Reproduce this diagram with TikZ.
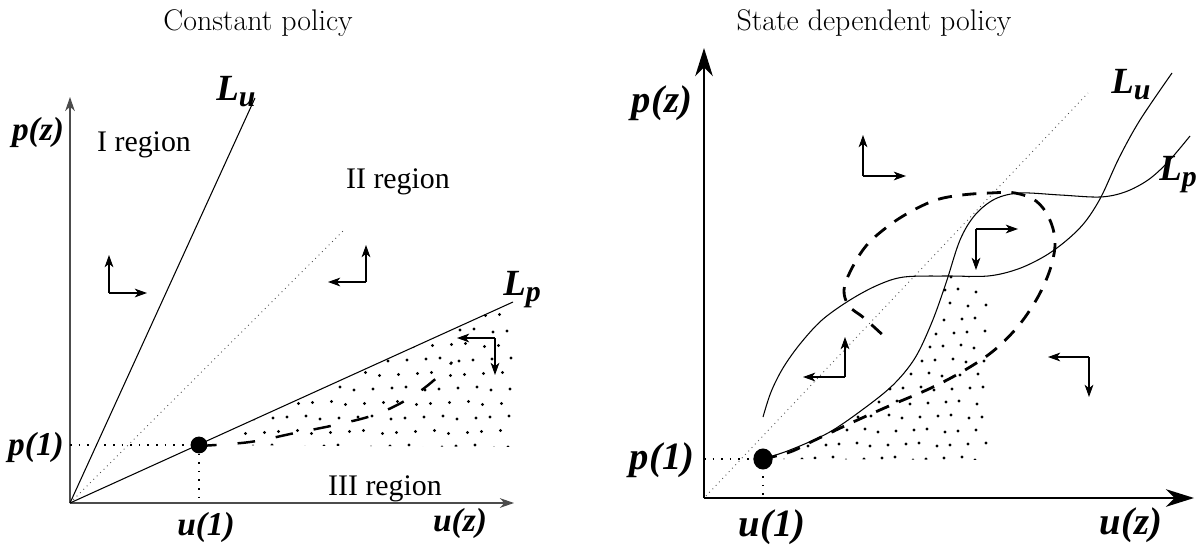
\documentclass[tikz,border=0pt]{standalone}
\usepackage{fontspec}
\newfontfamily\tms{Liberation Serif}
\usetikzlibrary{arrows.meta}
\newcommand{\Lsub}[1]{{\fontsize{21}{21}\selectfont L}\raisebox{-0.4ex}{\fontsize{17}{17}\selectfont #1}}
\begin{document}
\begin{tikzpicture}[x=0.02cm,y=-0.02cm,
  axisL/.style={draw=black!70, line width=0.8pt, -{Stealth[length=8pt,width=5.5pt,inset=2.5pt]}},
  axisR/.style={draw=black, line width=1.2pt, -{Stealth[length=16pt,width=10pt,inset=5pt]}},
  curve/.style={line width=0.6pt},
  diag/.style={line width=0.5pt, black!70, dash pattern=on 0.5pt off 2.2pt},
  guide/.style={line width=0.9pt, dash pattern=on 0.9pt off 4pt},
  sarrow/.style={line width=0.6pt, -{Stealth[length=7pt,width=5pt,inset=2pt]}},
  dashL/.style={line width=1.4pt, dash pattern=on 10pt off 12pt},
  dashR/.style={line width=1.6pt, dash pattern=on 8pt off 6pt},
  lab/.style={font=\tms\bfseries\itshape\fontsize{19}{19}\selectfont, inner sep=0pt},
  labR/.style={font=\tms\bfseries\itshape\fontsize{22}{22}\selectfont, inner sep=0pt},
  reg/.style={font=\tms\fontsize{17}{17}\selectfont, inner sep=0pt},
  ttl/.style={font=\fontsize{17}{17}\selectfont, inner sep=0pt, anchor=base},
]
\useasboundingbox (0,0) rectangle (1196,544);

% ---------- titles
\node[ttl] (t1) at (258,31) {Constant policy};
\node[ttl] (t2) at (874,31) {State dependent policy};

% ================= LEFT PANEL
\coordinate (O1) at (70,503);
\coordinate (Y1) at (70,97);
\coordinate (X1) at (514,503);
\coordinate (Lu1) at (255,98);
\coordinate (Dg1) at (345,229);
\coordinate (Lp1) at (513,302);
\coordinate (P1) at (199,445);
\coordinate (PY1) at (70,445);
\coordinate (UX1) at (199,503);
\coordinate (R1) at (513,447);

% dotted region
\begin{scope}
\clip (P1) -- (Lp1) -- (R1) -- cycle;
\foreach \j in {0,...,10} {
  \foreach \i in {0,...,19} {
    \fill ({203+\i*17+mod(\j,2)*8.5+mod(\i*7+\j*3,5)-2}, {447-\j*14.5+mod(\i*3+\j,4)-2}) circle[radius=0.95pt];
  }
}
\end{scope}

\draw[axisL] (O1) -- (Y1);
\draw[axisL] (O1) -- (X1);
\draw[curve] (O1) -- (Lu1);
\draw[diag] (O1) -- (Dg1);
\draw[curve] (O1) -- (Lp1);
\draw[guide] (PY1) -- (P1);
\draw[guide] (P1) -- (UX1);
\draw[dashL] plot[smooth, tension=0.6] coordinates {(199,446) (250,442) (295,433) (335,425) (377,414) (413,396) (440,375) (452,362)};
\fill (P1) circle[radius=4.8pt];

% arrow groups
\coordinate (a1) at (109,293); \coordinate (a1u) at (109,255); \coordinate (a1r) at (147,293);
\draw[sarrow] (a1) -- (a1u); \draw[sarrow] (a1) -- (a1r);
\coordinate (a2) at (366,282); \coordinate (a2u) at (366,245); \coordinate (a2l) at (328,282);
\draw[sarrow] (a2) -- (a2u); \draw[sarrow] (a2) -- (a2l);
\coordinate (a3) at (495,338); \coordinate (a3l) at (457,338); \coordinate (a3d) at (495,375);
\draw[sarrow] (a3) -- (a3l); \draw[sarrow] (a3) -- (a3d);

% labels
\node[lab] (pz1) at (38,132) {p(z)};
\node[lab] (p11) at (36,447) {p(1)};
\node[lab] (u11) at (206,527) {u(1)};
\node[lab] (uz1) at (460,523) {u(z)};
\node[lab] (lu1) at (236,92) {\Lsub{u}};
\node[lab] (lp1) at (522,290) {\Lsub{p}};
\node[reg] (r1) at (144,145) {I region};
\node[reg] (r2) at (398,182) {II region};
\node[reg] (r3) at (385,489) {III region};

% ================= RIGHT PANEL
\coordinate (O2) at (704,498);
\coordinate (Y2) at (704,48);
\coordinate (X2) at (1194,498);
\coordinate (P2) at (763,459);
\coordinate (PY2) at (704,459);
\coordinate (UX2) at (763,498);
\coordinate (Dg2a) at (706,496);
\coordinate (Dg2b) at (1088,93);

% dotted region
\begin{scope}
\clip (763,459) -- (790,450) -- (828,433) -- (862,410) -- (893,385) -- (915,358) -- (932,322) -- (946,283) -- (948,276) -- (988,276) -- (988,460) -- cycle;
\foreach \j in {0,...,13} {
  \foreach \i in {0,...,15} {
    \fill ({768+\i*16+mod(\j,2)*8+mod(\i*7+\j*3,5)-2}, {459-\j*14+mod(\i*3+\j,4)-2}) circle[radius=0.95pt];
  }
}
\end{scope}

\draw[axisR] (O2) -- (Y2);
\draw[axisR] (O2) -- (X2);
\draw[diag] (Dg2a) -- (Dg2b);
\draw[guide] (PY2) -- (P2);
\draw[guide] (P2) -- (UX2);

% Lu curve
\draw[curve] plot[smooth, tension=0.55] coordinates {(763,417) (771,392) (783,368) (800,344) (822,320) (850,300) (878,285) (904,277) (946,276) (988,276) (1018,269) (1045,256) (1067,240) (1085,222) (1101,197) (1119,158) (1140,120) (1172,73)};
% Lp curve
\draw[curve] plot[smooth, tension=0.55] coordinates {(763,459) (790,450) (828,433) (862,410) (893,385) (915,358) (932,322) (946,283) (960,240) (975,215) (995,199) (1020,193) (1060,195) (1100,197) (1125,192) (1148,180) (1168,162) (1190,136)};
% dashed trajectory
\draw[dashR] plot[smooth, tension=0.6] coordinates {(763,459) (790,452) (813,441) (851,423) (889,406) (931,388) (965,370) (992,352) (1014,331) (1030,310) (1043,287) (1052,263) (1055,240) (1049,218) (1036,201) (1015,193) (990,193) (962,195) (936,200) (910,212) (887,227) (866,246) (851,270) (844,290) (849,306) (864,318) (886,338)};
\fill (P2) ellipse[x radius=5.5pt, y radius=6pt];

% arrow groups
\coordinate (b1) at (863,176); \coordinate (b1u) at (863,135); \coordinate (b1r) at (906,176);
\draw[sarrow] (b1) -- (b1u); \draw[sarrow] (b1) -- (b1r);
\coordinate (b2) at (976,229); \coordinate (b2r) at (1018,229); \coordinate (b2d) at (976,270);
\draw[sarrow] (b2) -- (b2r); \draw[sarrow] (b2) -- (b2d);
\coordinate (b3) at (845,377); \coordinate (b3u) at (845,337); \coordinate (b3l) at (803,377);
\draw[sarrow] (b3) -- (b3u); \draw[sarrow] (b3) -- (b3l);
\coordinate (b4) at (1089,357); \coordinate (b4l) at (1048,357); \coordinate (b4d) at (1089,397);
\draw[sarrow] (b4) -- (b4l); \draw[sarrow] (b4) -- (b4d);

% labels
\node[labR] (pz2) at (662,103) {p(z)};
\node[labR] (p12) at (662,460) {p(1)};
\node[labR] (u12) at (772,527) {u(1)};
\node[labR] (uz2) at (1131,525) {u(z)};
\node[lab] (lu2) at (1131,85) {\Lsub{u}};
\node[lab] (lp2) at (1178,175) {\Lsub{p}};
\end{tikzpicture}
\end{document}
